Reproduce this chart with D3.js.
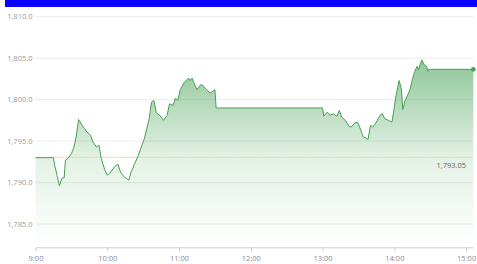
<!DOCTYPE html>
<html><head><meta charset="utf-8">
<script src="https://cdn.jsdelivr.net/npm/d3@7"></script>
<style>body{margin:0;background:#fff}svg{display:block}</style>
</head><body>
<svg id="c" width="477" height="264"></svg>
<script>
const times = ["9:00","9:15","9:16","9:18","9:20","9:22","9:24","9:25","9:27","9:30","9:32","9:34","9:36","9:39","9:41","9:43","9:46","9:48","9:51","9:53","9:55","9:58",
"10:00","10:02","10:04","10:06","10:09","10:11","10:14","10:16","10:18","10:20","10:23","10:26","10:28","10:31","10:33","10:35","10:37","10:39","10:41","10:44","10:47","10:50","10:52","10:55","10:57","10:59",
"11:01","11:04","11:08","11:09","11:11","11:12","11:15","11:18","11:20","11:23","11:26","11:29","11:30","11:31","13:00",
"13:01","13:04","13:06","13:09","13:12","13:14","13:16","13:19","13:22","13:24","13:27","13:29","13:31","13:34","13:36","13:38","13:40","13:42","13:45","13:48","13:50","13:52","13:55","13:58",
"14:00","14:01","14:03","14:04","14:06","14:07","14:09","14:11","14:13","14:15","14:17","14:19","14:20","14:22","14:23","14:25","14:27","14:28","14:29","14:30","15:06"];
const prices = [1793.0,1793.0,1792.1,1790.9,1789.6,1790.5,1790.6,1792.7,1792.9,1793.5,1794.2,1795.5,1797.6,1796.9,1796.5,1796.1,1795.7,1794.9,1794.3,1794.5,1792.9,1791.5,
1790.9,1791.1,1791.5,1791.9,1792.2,1791.3,1790.7,1790.5,1790.3,1791.3,1792.3,1793.3,1794.1,1795.3,1796.5,1797.7,1799.7,1799.9,1798.4,1798.1,1797.5,1798.1,1799.5,1799.3,1800.2,1799.9,
1801.2,1802.0,1802.6,1802.3,1802.6,1802.2,1801.2,1801.8,1801.7,1801.2,1800.8,1801.1,1801.2,1799.0,1799.0,
1798.0,1798.5,1798.1,1798.3,1798.0,1798.7,1797.9,1797.5,1796.8,1796.7,1797.2,1797.3,1796.7,1795.5,1795.4,1795.2,1796.9,1796.7,1797.3,1798.1,1798.3,1797.7,1797.5,1797.3,
1799.1,1800.2,1801.6,1802.3,1801.2,1798.8,1799.9,1800.5,1801.2,1802.4,1803.4,1804.0,1803.6,1804.4,1804.8,1804.2,1804.0,1803.4,1803.65,1803.65,1803.65];
const prevClose = 1793.05;
const yTicks = [1785,1790,1795,1800,1805,1810];
const xTickLabels = ["9:00","10:00","11:00","12:00","13:00","14:00","15:00"];
const xDomain = ["9:00","15:06"];
const yDomain = [1782.2,1810];

const parse = d3.timeParse("%H:%M");
const data = times.map((t,i)=>({t:parse(t),v:prices[i]}));
const svg = d3.select("#c");
const L=35.5, R=473.3, T=16.7, B=247.3;
const x = d3.scaleTime().domain(xDomain.map(parse)).range([L,R]);
const y = d3.scaleLinear().domain(yDomain).range([B,T]);
const green = "#45a152";
const font = "'Open Sans', sans-serif";

svg.append("rect").attr("x",5).attr("y",0).attr("width",472).attr("height",7).attr("fill","#0a00ff");

// grid
svg.append("g").selectAll("line").data(yTicks).join("line")
  .attr("x1",L).attr("x2",R).attr("y1",d=>y(d)).attr("y2",d=>y(d))
  .attr("stroke","#ebebeb").attr("stroke-width",1);
svg.append("g").selectAll("text").data(yTicks).join("text")
  .attr("x",L-3).attr("y",d=>y(d)).attr("dy","0.35em").attr("text-anchor","end")
  .attr("font-family",font).attr("font-size",7.5).attr("fill","#9a9a9a")
  .text(d=>d3.format(",.1f")(d));

// gradient
const ymax = d3.max(prices);
const defs = svg.append("defs");
const grad = defs.append("linearGradient").attr("id","g").attr("gradientUnits","userSpaceOnUse")
  .attr("x1",0).attr("x2",0).attr("y1",y(ymax)).attr("y2",B);
grad.append("stop").attr("offset",0).attr("stop-color",green).attr("stop-opacity",0.6);
grad.append("stop").attr("offset",0.52).attr("stop-color",green).attr("stop-opacity",0.15);
grad.append("stop").attr("offset",1).attr("stop-color",green).attr("stop-opacity",0.0);

svg.append("path").datum(data).attr("fill","url(#g)")
  .attr("d",d3.area().x(d=>x(d.t)).y0(B).y1(d=>y(d.v)));

// prev close
svg.append("line").attr("x1",L).attr("x2",R).attr("y1",y(prevClose)).attr("y2",y(prevClose))
  .attr("stroke","#f2d48e").attr("stroke-width",1.2).attr("stroke-dasharray","2,1");
svg.append("text").attr("x",x(parse("15:00"))).attr("y",y(prevClose)+8).attr("dy","0.35em")
  .attr("text-anchor","end").attr("font-family",font).attr("font-size",7.5).attr("fill","#666")
  .text(d3.format(",.2f")(prevClose));

svg.append("path").datum(data).attr("fill","none").attr("stroke",green).attr("stroke-width",1)
  .attr("stroke-linejoin","round")
  .attr("d",d3.line().x(d=>x(d.t)).y(d=>y(d.v)));

const last = data[data.length-1];
svg.append("circle").attr("cx",x(last.t)).attr("cy",y(last.v)).attr("r",2.3).attr("fill",green);

// x axis
const ax = svg.append("g").attr("transform",`translate(0,${B})`)
  .call(d3.axisBottom(x).tickValues(xTickLabels.map(parse)).tickFormat(d3.timeFormat("%-H:%M")).tickSize(4).tickSizeOuter(0));
ax.select(".domain").attr("stroke","#cfcfcf");
ax.selectAll(".tick line").attr("stroke","#cfcfcf");
ax.selectAll(".tick text").attr("font-family",font).attr("font-size",7.5).attr("fill","#8a8a9a").attr("dy","0.9em");
</script>
</body></html>
